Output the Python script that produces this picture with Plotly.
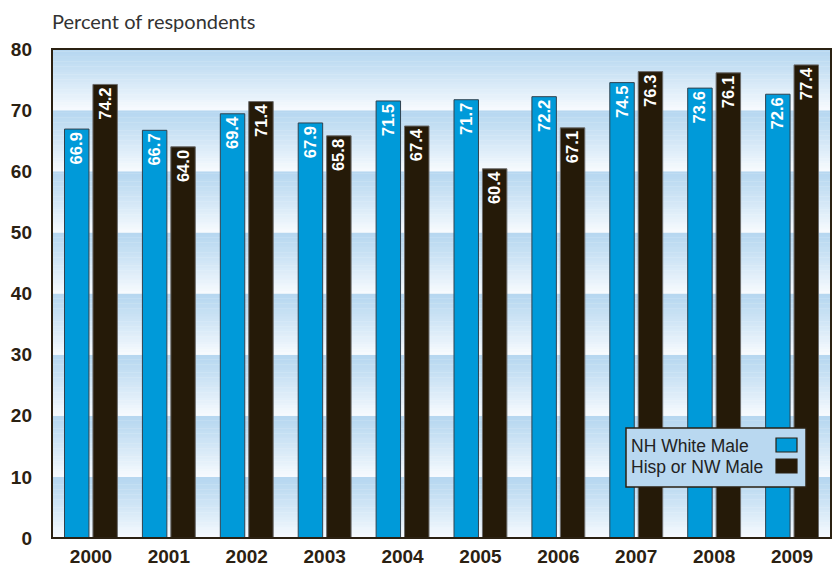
import plotly.graph_objects as go

years = ["2000", "2001", "2002", "2003", "2004", "2005", "2006", "2007", "2008", "2009"]
nh_white_male = [66.9, 66.7, 69.4, 67.9, 71.5, 71.7, 72.2, 74.5, 73.6, 72.6]
hisp_nw_male = [74.2, 64.0, 71.4, 65.8, 67.4, 60.4, 67.1, 76.3, 76.1, 77.4]
y_ticks = [0, 10, 20, 30, 40, 50, 60, 70, 80]

BLUE = "#009ad9"
DARK = "#251a08"
TXT = "#2b2112"
BOLDF = "Liberation Sans Narrow, Arial Narrow, Liberation Sans"

fig = go.Figure()
fig.add_trace(go.Bar(
    x=years, y=nh_white_male, name="NH White Male",
    marker=dict(color=BLUE, line=dict(color="#30424f", width=1)),
    text=[f"{v:.1f}" for v in nh_white_male], textposition="inside",
    insidetextanchor="end", textangle=-90,
    textfont=dict(family=BOLDF, size=18, color="white", weight="bold"),
))
fig.add_trace(go.Bar(
    x=years, y=hisp_nw_male, name="Hisp or NW Male",
    marker=dict(color=DARK, line=dict(color="#6b6b6b", width=1)),
    text=[f"{v:.1f}" for v in hisp_nw_male], textposition="inside",
    insidetextanchor="end", textangle=-90,
    textfont=dict(family=BOLDF, size=18, color="white", weight="bold"),
))

# gradient background bands
shapes = []
def lerp(c1, c2, t):
    return "rgb(%d,%d,%d)" % tuple(round(a + (b - a) * t) for a, b in zip(c1, c2))
top_c = (182, 215, 240)
bot_c = (248, 251, 254)
steps = 24
for lo in y_ticks[:-1]:
    for i in range(steps):
        y0 = lo + 10 * i / steps
        y1 = lo + 10 * (i + 1) / steps + 0.05
        t = 1 - (i + 0.5) / steps  # 0 at top, 1 at bottom
        shapes.append(dict(type="rect", xref="paper", yref="y", x0=0, x1=1,
                           y0=y0, y1=min(y1, lo + 10), fillcolor=lerp(top_c, bot_c, t ** 1.2),
                           line=dict(width=0), layer="below"))
# frame
shapes.append(dict(type="rect", xref="paper", yref="paper", x0=0, x1=1, y0=0, y1=1,
                   line=dict(color=TXT, width=2), layer="above"))

# custom legend (swatches on the right)
shapes.append(dict(type="rect", xref="paper", yref="paper",
                   x0=(626 - 52) / 779, x1=(806 - 52) / 779,
                   y0=(538 - 487) / 489, y1=(538 - 428) / 489,
                   fillcolor="#b9d8f0", line=dict(color=TXT, width=1.5), layer="above"))
for col, ytop, ybot in [(BLUE, 438, 452), (DARK, 459, 473)]:
    shapes.append(dict(type="rect", xref="paper", yref="paper",
                       x0=(776 - 52) / 779, x1=(797 - 52) / 779,
                       y0=(538 - ybot) / 489, y1=(538 - ytop) / 489,
                       fillcolor=col, line=dict(color=TXT, width=1.2), layer="above"))

annotations = [
    dict(text="Percent of respondents", xref="paper", yref="paper",
         x=(50 - 52) / 779, y=(538 - 21) / 489, xanchor="left", yanchor="middle",
         showarrow=False, font=dict(family="Lato, Open Sans", size=20, color="#333333")),
]
for name, yc in [("NH White Male", 446), ("Hisp or NW Male", 467)]:
    annotations.append(dict(text=name, xref="paper", yref="paper",
                            x=(629 - 52) / 779, y=(538 - yc) / 489,
                            xanchor="left", yanchor="middle", showarrow=False,
                            font=dict(family="Liberation Sans, Arial", size=17.5, color="#222222")))

fig.update_layout(
    width=836, height=568,
    margin=dict(l=52, r=5, t=49, b=30, autoexpand=False),
    paper_bgcolor="white", plot_bgcolor="white",
    barmode="group", bargap=0.27, bargroupgap=0.14,
    showlegend=False,
    shapes=shapes, annotations=annotations,
    uniformtext=dict(mode="show", minsize=10),
)
fig.update_xaxes(type="category", showgrid=False, ticks="", showline=False,
                 automargin=False, ticklabelstandoff=5,
                 tickfont=dict(family=BOLDF, size=19, color=TXT, weight="bold"))
fig.update_yaxes(range=[0, 80], tickvals=y_ticks, showgrid=False, zeroline=False, ticks="",
                 showline=False, automargin=False, ticklabelstandoff=19,
                 tickfont=dict(family=BOLDF, size=19, color=TXT, weight="bold"))

fig.write_html("out.html", config={"displayModeBar": False},
               post_script="document.body.style.margin='0';")
